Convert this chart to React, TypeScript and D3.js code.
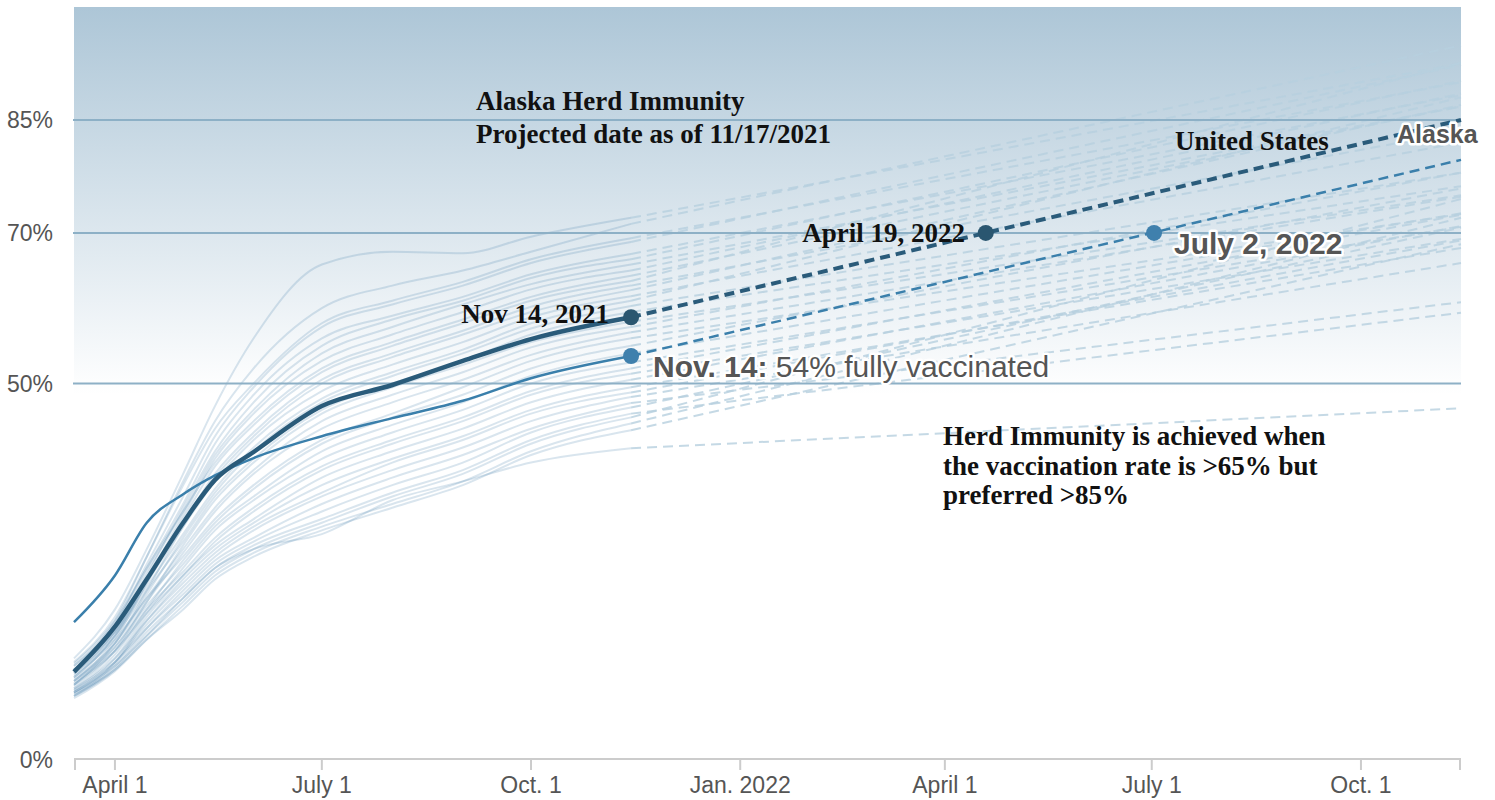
import React from "react";
import * as d3 from "d3";

// ---------- data ----------
const sampleDates = ["2021-03-14","2021-04-01","2021-04-15","2021-05-01","2021-05-15","2021-06-01","2021-07-01","2021-08-01","2021-09-01","2021-10-01","2021-11-14"];
const projectionEndDate = "2022-11-14";

const usValues = [11.7, 17.7, 24.0, 31.5, 37.2, 40.9, 47.0, 49.8, 53.0, 55.9, 58.8];
const usProjectionEnd = 85.0;
const alaskaValues = [18.3, 24.5, 31.5, 35.3, 37.8, 40.1, 43.0, 45.4, 47.7, 50.7, 53.65];
const alaskaProjectionEnd = 79.7;

const usHerdDate = "2022-04-19";
const alaskaHerdDate = "2022-07-02";
const herdValue = 70;

// other states: values at sampleDates, and projected value on projectionEndDate
const stateValues: number[][] = [
  [13.5, 20, 28, 38, 47, 56, 65.8, 67.5, 67.3, 69.5, 72.0],
  [12.5, 18.5, 27, 37, 45, 52, 60, 63, 65, 67.5, 71.2],
  [13, 19, 27, 36.5, 44, 50, 58, 61, 63.5, 66.5, 69.3],
  [12, 18, 26, 35, 43, 49.5, 57.5, 60.5, 63, 66, 68.8],
  [12.8, 18.5, 25.5, 34, 42, 48.5, 56, 59, 61.5, 64.5, 67.2],
  [11.5, 17, 24.5, 33.5, 41, 47.5, 55, 58.5, 61, 64, 66.5],
  [12, 17.5, 25, 33, 40.5, 46.5, 54, 57.5, 60.5, 63.2, 65.8],
  [11, 16.5, 24, 32.5, 40, 46, 53, 56.5, 59.5, 62.5, 65.0],
  [12.5, 18, 25.5, 33, 39.5, 45, 52, 55.5, 58.5, 61.5, 64.3],
  [10.5, 16, 23.5, 32, 39, 44.5, 51.5, 55, 58, 61, 63.6],
  [11.8, 17, 24, 31.5, 38, 43.5, 50.5, 54, 57, 60.2, 63.0],
  [10, 15.5, 22.5, 31, 37.5, 43, 50, 53.5, 56.5, 59.5, 62.4],
  [11, 16.5, 23.5, 31, 37, 42.5, 49, 52.5, 55.5, 58.8, 61.6],
  [12, 17, 23, 30, 36, 41.5, 48, 51.5, 54.5, 58, 61.0],
  [10.5, 15.5, 22, 29.5, 35.5, 41, 47.5, 51, 54, 57.3, 60.3],
  [11.5, 16.5, 22.5, 29, 35, 40, 46.5, 50, 53, 56.5, 59.5],
  [9.8, 14.5, 21, 28.5, 34.5, 39.5, 46, 49.5, 52.5, 55.5, 58.2],
  [10.8, 15.5, 21.5, 28, 33.5, 38.5, 45, 48.5, 51.5, 54.8, 57.5],
  [10, 15, 21, 27.5, 33, 38, 44, 47.5, 50.5, 53.8, 56.8],
  [11.2, 16, 21.5, 27, 32, 36.5, 42.5, 46, 49.5, 53, 56.0],
  [9.5, 14, 20, 26.5, 31.5, 36, 42, 45.5, 48.5, 52, 55.0],
  [10.5, 15, 20.5, 26, 31, 35, 41, 44.5, 47.5, 51, 54.0],
  [9.2, 13.5, 19.5, 25.5, 30.5, 34.5, 40, 43.5, 46.5, 50, 52.8],
  [10, 14.5, 20, 25, 29.5, 33.5, 39, 42.5, 45.5, 49, 52.0],
  [9, 13, 19, 24.5, 29, 33, 38.5, 42, 45, 48.5, 51.3],
  [10.2, 14.5, 19.5, 24.5, 28.5, 32, 37.5, 41, 44, 47.5, 50.5],
  [8.8, 12.8, 18.5, 24, 28, 31.5, 36.5, 40, 43, 46.5, 49.5],
  [9.5, 13.5, 18.5, 23.5, 27.5, 31, 35.5, 39.5, 42.5, 46, 48.8],
  [9, 13, 18, 23, 27, 30.5, 35, 38.5, 41.5, 45, 48.2],
  [8.5, 12.5, 17.5, 22.5, 26.5, 29.5, 34, 37.5, 40.5, 44, 47.4],
  [9.3, 13, 17.5, 22, 26, 29, 33, 36.5, 39.5, 43.5, 46.8],
  [8.5, 12.2, 17, 21.5, 25.5, 28.5, 32, 35.5, 38.5, 42.5, 46.0],
  [9, 12.5, 16.5, 21, 25, 28, 31.5, 35, 38, 42, 45.5],
  [8.2, 11.8, 16, 20.5, 24.5, 27.5, 31, 34, 37, 41, 44.7],
  [8.8, 12, 16, 20, 24, 27, 30.5, 33.5, 36.5, 40.5, 43.8],
  [8.5, 12, 16.5, 21.5, 25.5, 28, 30, 34.5, 37, 39.5, 41.4],
];
const stateProjectionEnds = [
  92.5, 94.9, 90.0, 92.3, 88.3, 90.2, 86.8, 88.5, 86.8, 92.6, 83.5, 87.0,
  82.0, 88.0, 78.0, 76.2, 75.0, 78.0, 74.8, 72.5, 75.9, 72.6, 70.8, 72.4,
  69.2, 70.9, 68.0, 69.0, 66.0, 60.8, 70.7, 59.4, 74.5, 72.0, 68.5, 46.7,
];

const yTicks = [0, 50, 70, 85];
const gridValues = [50, 70, 85];
const xTickDates = ["2021-04-01","2021-07-01","2021-10-01","2022-01-01","2022-04-01","2022-07-01","2022-10-01"];
const xTickLabels = ["April 1","July 1","Oct. 1","Jan. 2022","April 1","July 1","Oct. 1"];

// ---------- chart ----------
const W = 1495, H = 800;
const parse = d3.utcParse("%Y-%m-%d");

export default function App() {
  const x = d3.scaleUtc().domain([parse("2021-03-14")!, parse(projectionEndDate)!]).range([74, 1461]);
  const y = d3.scaleLinear().domain([0, 100]).range([760, 7]);
  const dts = sampleDates.map((s) => parse(s)!);
  const endD = parse(projectionEndDate)!;
  const lastD = dts[dts.length - 1];

  const line = d3.line<[Date, number]>().x((d) => x(d[0])).y((d) => y(d[1])).curve(d3.curveMonotoneX);
  const hist = (vals: number[]) => line(vals.map((v, i) => [dts[i], v] as [Date, number])) || "";
  const proj = (vals: number[], end: number) =>
    d3.line<[Date, number]>().x((d) => x(d[0])).y((d) => y(d[1]))([[lastD, vals[vals.length - 1]], [endD, end]]) || "";

  const sans = "'Liberation Sans', Arial, Helvetica, sans-serif";
  const serif = "'Liberation Serif', 'Times New Roman', serif";
  const halo = { paintOrder: "stroke" as const, stroke: "#fff", strokeWidth: 5, strokeLinejoin: "round" as const };

  const usEnd = usValues[usValues.length - 1];
  const akEnd = alaskaValues[alaskaValues.length - 1];

  return (
    <svg width={W} height={H} style={{ position: "fixed", left: 0, top: 0, background: "#fff" }}>
      <defs>
        <linearGradient id="bg" x1="0" y1="0" x2="0" y2="1">
          <stop offset="0" stopColor="#adc6d7" />
          <stop offset="1" stopColor="#ffffff" />
        </linearGradient>
      </defs>
      <rect x={x.range()[0]} y={y(100)} width={x.range()[1] - x.range()[0]} height={y(48.5) - y(100)} fill="url(#bg)" />

      {/* state histories */}
      <g fill="none" stroke="#3f7fa8" strokeOpacity={0.2} strokeWidth={2}>
        {stateValues.map((v, i) => <path key={i} d={hist(v)} />)}
      </g>
      {/* state projections */}
      <g fill="none" stroke="#b7cfdf" strokeOpacity={0.8} strokeWidth={2} strokeDasharray="10,6">
        {stateValues.map((v, i) => <path key={i} d={proj(v, stateProjectionEnds[i])} />)}
      </g>

      {/* grid lines */}
      <g stroke="#8db0c6" strokeWidth={2}>
        {gridValues.map((g) => <line key={g} x1={73} x2={1461} y1={y(g)} y2={y(g)} />)}
      </g>

      {/* axis */}
      <g stroke="#cccccc" strokeWidth={2}>
        <line x1={74} x2={1461} y1={759} y2={759} />
        <line x1={75} x2={75} y1={759} y2={770} />
        <line x1={1460} x2={1460} y1={759} y2={770} />
        {xTickDates.map((t) => <line key={t} x1={x(parse(t)!)} x2={x(parse(t)!)} y1={759} y2={770} />)}
      </g>
      <g fontFamily={sans} fontSize={23} fill="#555" textAnchor="middle">
        {xTickDates.map((t, i) => <text key={t} x={x(parse(t)!)} y={793}>{xTickLabels[i]}</text>)}
      </g>
      <g fontFamily={sans} fontSize={23} fill="#555" textAnchor="end">
        {yTicks.map((t) => <text key={t} x={53} y={y(t) + 8}>{t}%</text>)}
      </g>

      {/* Alaska */}
      <path d={hist(alaskaValues)} fill="none" stroke="#3a7fab" strokeWidth={2.5} />
      <path d={proj(alaskaValues, alaskaProjectionEnd)} fill="none" stroke="#3a7fab" strokeWidth={2.5} strokeDasharray="10,6" />
      {/* US */}
      <path d={hist(usValues)} fill="none" stroke="#2a5b7a" strokeWidth={4.5} />
      <path d={proj(usValues, usProjectionEnd)} fill="none" stroke="#2a5b7a" strokeWidth={4} strokeDasharray="10,6" />

      <circle cx={x(lastD)} cy={y(usEnd)} r={8} fill="#2a5670" />
      <circle cx={x(lastD)} cy={y(akEnd)} r={8} fill="#3f80ad" />
      <circle cx={x(parse(usHerdDate)!)} cy={y(herdValue)} r={8} fill="#2a5670" />
      <circle cx={x(parse(alaskaHerdDate)!)} cy={y(herdValue)} r={8} fill="#3f80ad" />

      {/* serif annotations */}
      <g fontFamily={serif} fontWeight="bold" fontSize={27} fill="#111">
        <text x={476} y={110}>Alaska Herd Immunity</text>
        <text x={476} y={143}>Projected date as of 11/17/2021</text>
        <text x={1175} y={150}>United States</text>
        <text x={965} y={242} textAnchor="end">April 19, 2022</text>
        <text x={609} y={323} textAnchor="end">Nov 14, 2021</text>
        <text x={943} y={445}>Herd Immunity is achieved when</text>
        <text x={943} y={475}>the vaccination rate is &gt;65% but</text>
        <text x={943} y={504}>preferred &gt;85%</text>
      </g>

      {/* sans annotations with halo */}
      <g fontFamily={sans} fill="#555" style={halo}>
        <text x={1397} y={143} fontSize={25} fontWeight="bold">Alaska</text>
        <text x={1174} y={254} fontSize={30} fontWeight="bold">July 2, 2022</text>
        <text x={653} y={377} fontSize={30}>
          <tspan fontWeight="bold">Nov. 14:</tspan> 54% fully vaccinated
        </text>
      </g>
    </svg>
  );
}
